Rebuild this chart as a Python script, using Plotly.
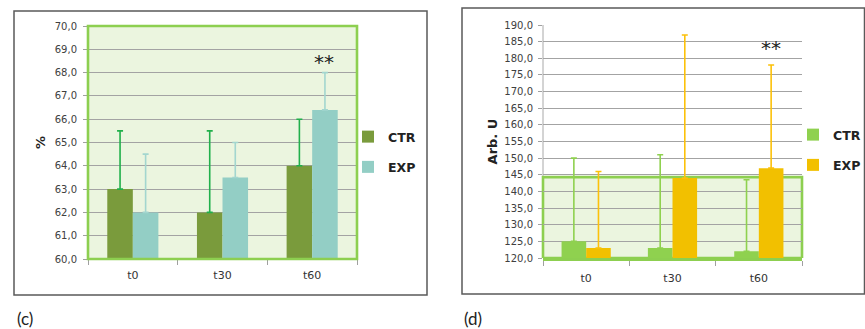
import plotly.graph_objects as go

# ---- data -------------------------------------------------------------
categories = ["t0", "t30", "t60"]

# panel (c): percentage
pct_ctr = [63.0, 62.0, 64.0]
pct_ctr_err = [2.5, 3.5, 2.0]
pct_exp = [62.0, 63.5, 66.4]
pct_exp_err = [2.5, 1.5, 1.6]

# panel (d): arbitrary units
arb_ctr = [125.0, 123.0, 122.0]
arb_ctr_err = [25.0, 28.0, 21.5]
arb_exp = [123.0, 144.0, 147.0]
arb_exp_err = [23.0, 43.0, 31.0]

pct_ticks = [60 + i for i in range(11)]
arb_ticks = [120 + 5 * i for i in range(15)]

# ---- styling ----------------------------------------------------------
W, H = 865, 329
TICK_FONT = dict(family="DejaVu Sans", size=10, color="#404040")
GREEN_EDGE = "#8dcf50"
PANEL_BG = "#ebf5df"
GRID = "#a3a3a3"
BOX_TOP = 144.3  # upper edge of the shaded box in panel (d)


def px_x(p):
    return p / W


def px_y(p):
    return 1 - p / H


fig = go.Figure()


def add_bar(x, y, err, name, color, err_color, xa, ya, legend):
    fig.add_trace(go.Bar(
        x=x, y=y, name=name, marker=dict(color=color, line=dict(width=0)),
        error_y=dict(type="data", symmetric=False, array=err,
                     arrayminus=[0] * len(err), color=err_color,
                     thickness=1.6, width=3),
        xaxis=xa, yaxis=ya, legend=legend, legendgroup=legend + name,
    ))


add_bar(categories, pct_ctr, pct_ctr_err, "CTR", "#7a9b3c", "#21b04b", "x", "y", "legend")
add_bar(categories, pct_exp, pct_exp_err, "EXP", "#93cec5", "#a3d6cf", "x", "y", "legend")
add_bar(categories, arb_ctr, arb_ctr_err, "CTR", "#8fd14f", "#8fd14f", "x2", "y2", "legend2")
add_bar(categories, arb_exp, arb_exp_err, "EXP", "#f2c000", "#fcc10a", "x2", "y2", "legend2")

shapes = [
    # outer frames
    dict(type="rect", xref="paper", yref="paper",
         x0=px_x(14), x1=px_x(427), y0=px_y(295), y1=px_y(11),
         line=dict(color="#5a5a5a", width=1.5), layer="below"),
    dict(type="rect", xref="paper", yref="paper",
         x0=px_x(462), x1=px_x(864.5), y0=px_y(294), y1=px_y(8),
         line=dict(color="#5a5a5a", width=1.5), layer="below"),
    # panel (c) plot area
    dict(type="rect", xref="x domain", yref="y domain", x0=0, x1=1, y0=0, y1=1,
         fillcolor=PANEL_BG, line=dict(width=0), layer="below"),
    dict(type="rect", xref="x domain", yref="y domain", x0=0, x1=1, y0=0, y1=1,
         line=dict(color=GREEN_EDGE, width=2.6), layer="above"),
    # panel (d) shaded box at the bottom of the plot area
    dict(type="rect", xref="x2 domain", yref="y2", x0=0, x1=1, y0=120, y1=BOX_TOP,
         fillcolor=PANEL_BG, line=dict(color=GREEN_EDGE, width=2.6), layer="below"),
    # panel (d) grey value-axis line above the box
    dict(type="line", xref="x2 domain", yref="y2", x0=0, x1=0, y0=BOX_TOP + 0.4, y1=190,
         line=dict(color="#a8a8a8", width=1), layer="below"),
]

star_x = categories.index("t60")
annotations = [
    dict(text="**", x=star_x, y=68.45, xref="x", yref="y", xshift=12,
         showarrow=False, font=dict(family="DejaVu Sans", size=20, color="#222")),
    dict(text="**", x=star_x, y=183.2, xref="x2", yref="y2", xshift=12,
         showarrow=False, font=dict(family="DejaVu Sans", size=20, color="#222")),
    dict(text="(c)", x=px_x(15), y=px_y(318), xref="paper", yref="paper",
         xanchor="left", yanchor="middle", showarrow=False,
         font=dict(family="Lato", size=17, color="#222")),
    dict(text="(d)", x=px_x(462), y=px_y(318), xref="paper", yref="paper",
         xanchor="left", yanchor="middle", showarrow=False,
         font=dict(family="Lato", size=17, color="#222")),
]

xcommon = dict(type="category", tickson="boundaries", ticks="outside", ticklen=5,
               tickcolor="#a0a0a0", showgrid=False, zeroline=False,
               ticklabelstandoff=8, automargin=False,
               tickfont=dict(family="DejaVu Sans", size=11, color="#333"),
               fixedrange=True)
ycommon = dict(ticks="outside", ticklen=4, tickcolor="#a0a0a0", tickformat=".1f",
               showgrid=True, gridcolor=GRID, gridwidth=1, zeroline=False,
               tickfont=TICK_FONT, fixedrange=True, showline=False, automargin=False)

legend_common = dict(font=dict(family="DejaVu Sans", size=12.5, color="#222",
                               weight="bold"),
                     bgcolor="rgba(0,0,0,0)", itemwidth=30, tracegroupgap=11,
                     yanchor="middle", xanchor="left", traceorder="grouped")

fig.update_layout(
    width=W, height=H, autosize=False,
    margin=dict(l=0, r=0, t=0, b=0, autoexpand=False),
    paper_bgcolor="white", plot_bgcolor="rgba(0,0,0,0)",
    separators=",.",
    barmode="group", bargap=0.43, bargroupgap=0,
    xaxis=dict(domain=[px_x(88), px_x(357)], anchor="y", showline=False, **xcommon),
    yaxis=dict(domain=[px_y(259), px_y(26)], anchor="x", range=[60, 70],
               tickvals=pct_ticks, ticklabelstandoff=4,
               title=dict(text="<b>%</b>", standoff=6,
                          font=dict(family="DejaVu Sans", size=13, color="#222")),
               **ycommon),
    xaxis2=dict(domain=[px_x(543), px_x(802)], anchor="y2", showline=True,
                linecolor=GREEN_EDGE, linewidth=2.6, **xcommon),
    yaxis2=dict(domain=[px_y(258), px_y(25)], anchor="x2", range=[120, 190],
                tickvals=arb_ticks, ticklabelstandoff=3,
                title=dict(text="<b>Arb. U</b>", standoff=3,
                           font=dict(family="DejaVu Sans", size=13, color="#222")),
                **ycommon),
    legend=dict(x=px_x(348), y=px_y(152), **legend_common),
    legend2=dict(x=px_x(793), y=px_y(150), **legend_common),
    shapes=shapes,
    annotations=annotations,
)

fig.write_html("out.html")
